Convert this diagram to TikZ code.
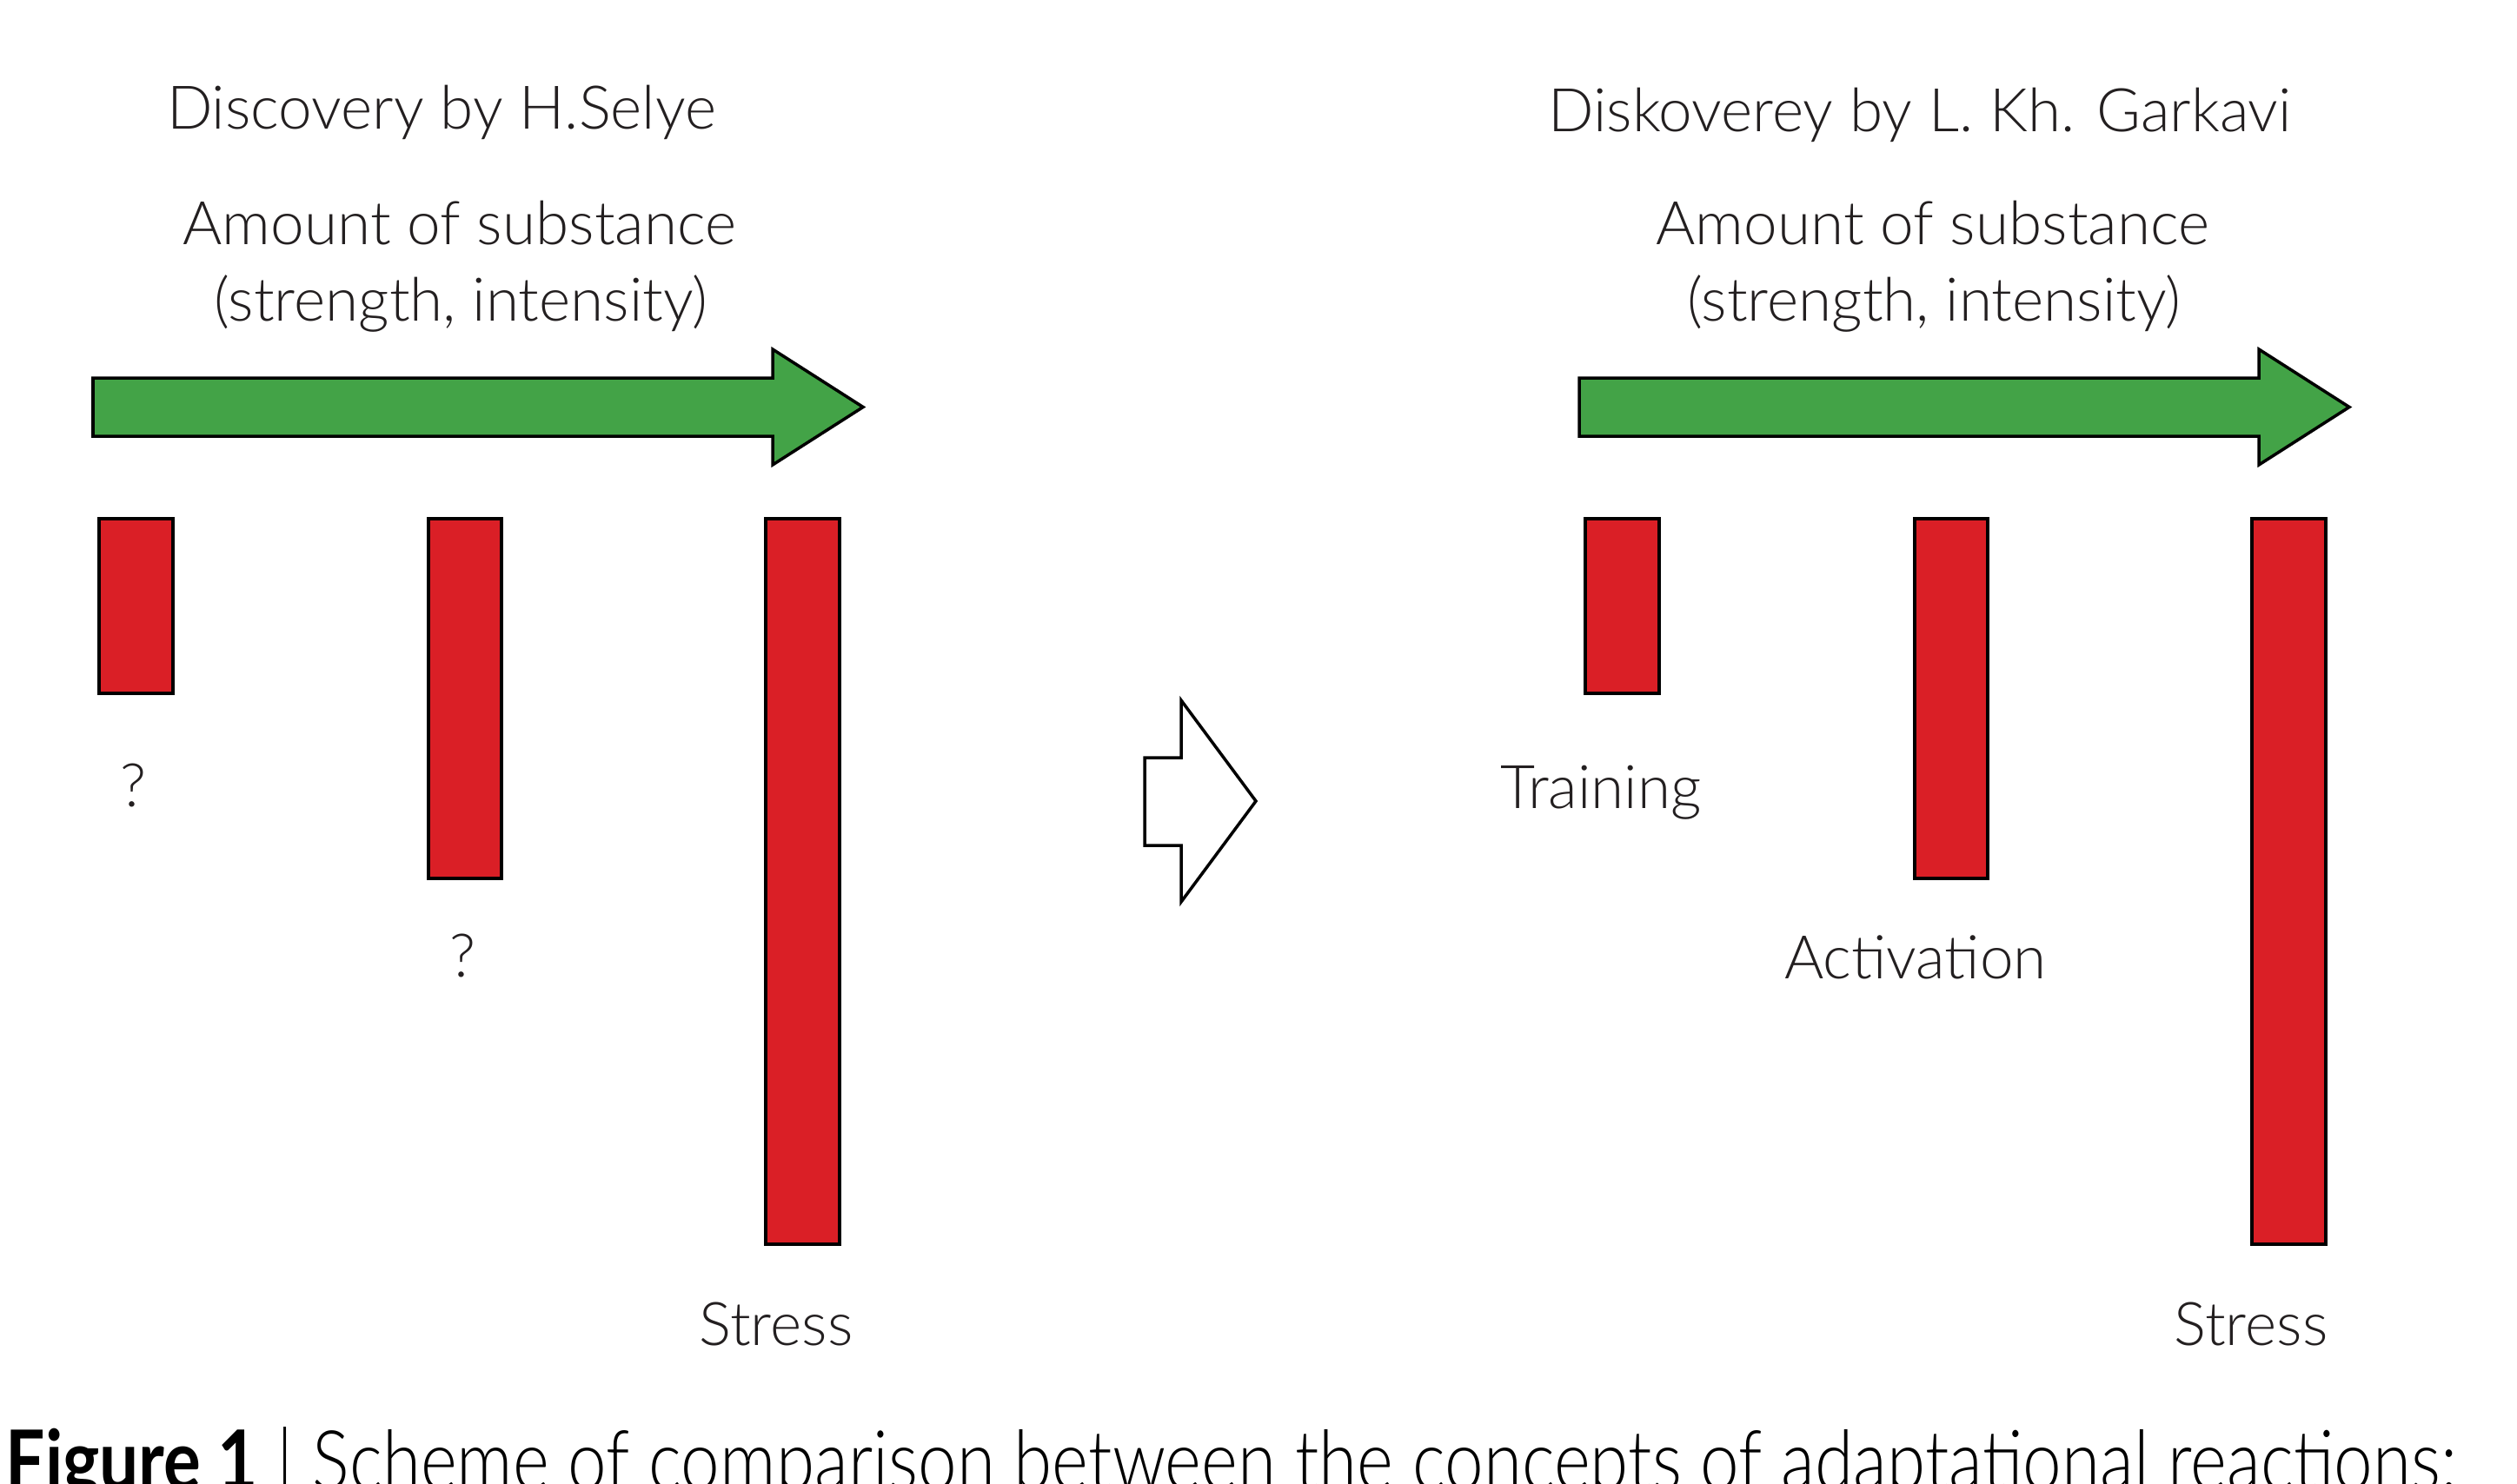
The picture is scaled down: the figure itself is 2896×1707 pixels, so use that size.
\documentclass[tikz,border=0pt]{standalone}
\usepackage{fontspec}
\setmainfont{Lato}[UprightFont=* Light,BoldFont=* Bold]
\usepackage{graphicx}
\definecolor{barred}{HTML}{DA1F26}
\definecolor{gogreen}{HTML}{43A347}
\definecolor{ink}{HTML}{231F20}
\tikzset{
  bar/.style={draw=black,fill=barred,line width=1pt},
  goarrow/.style={draw=black,fill=gogreen,line width=1pt},
  lbl/.style={anchor=base,inner sep=0pt,text=ink},
}
\begin{document}
\begin{tikzpicture}[x=0.1mm,y=-0.1mm,font=\fontsize{19.7}{24}\selectfont,line join=miter]
\useasboundingbox (0,0) rectangle (2896,1707);
% the two panels: arrow and three bars
\foreach \dx in {0,1710} {
\begin{scope}[shift={(\dx,0)}]
\draw[goarrow] (107,435)--(889,435)--(889,402)--(993,468.5)--(889,535)--(889,502)--(107,502)--cycle;
\draw[bar] (114,597) rectangle (199,798);
\draw[bar] (493,597) rectangle (577,1011);
\draw[bar] (881,597) rectangle (966,1432);
\end{scope}
}
% hollow arrow in the middle
\draw[line width=1pt] (1317,872)--(1359,872)--(1359,806)--(1445,922)--(1359,1038)--(1359,973)--(1317,973)--cycle;
% texts
\node[lbl] (selye) at (508,148) {Discovery by H.Selye};
\node[lbl] (garkavi) at (2209,151) {Diskoverey by L. Kh. Garkavi};
\node[lbl] (amountL) at (529,281) {Amount of substance};
\node[lbl] (strengthL) at (530,369) {(strength, intensity)};
\node[lbl] (amountR) at (2224,281) {Amount of substance};
\node[lbl] (strengthR) at (2225,369) {(strength, intensity)};
\node[lbl] (qa) at (153,928) {?};
\node[lbl] (qb) at (532,1124) {?};
\node[lbl] (stressL) at (893,1548) {Stress};
\node[lbl] (training) at (1842,930) {Training};
\node[lbl] (activation) at (2204,1126) {Activation};
\node[lbl] (stressR) at (2590,1548) {Stress};
\node[anchor=base west,inner sep=0pt] (caption) at (6,1714)
  {\resizebox{282mm}{\height}{\fontsize{27}{30}\selectfont\textbf{Figure 1} | Scheme of comparison between the concepts of adaptational reactions:}};
\end{tikzpicture}
\end{document}
